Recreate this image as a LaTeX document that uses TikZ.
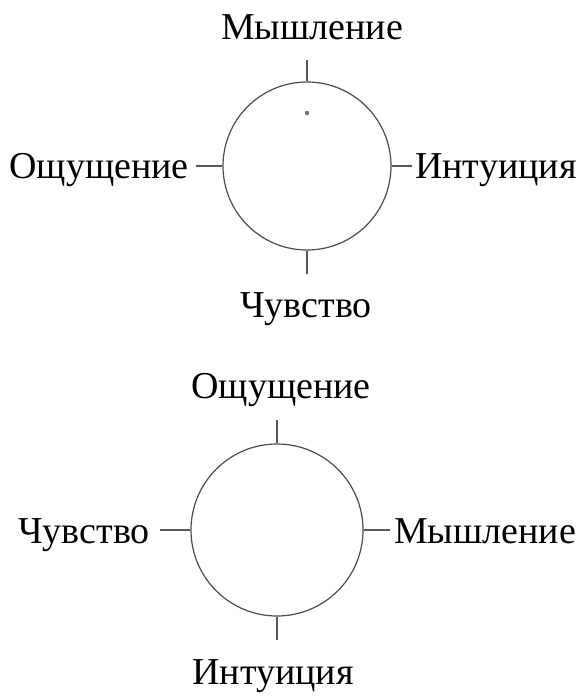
\documentclass[tikz,border=0pt]{standalone}
\usepackage{fontspec}
\setmainfont{Liberation Serif}
\begin{document}
\begin{tikzpicture}[x=1pt,y=-1pt,
  ring/.style={circle,draw=black!70,line width=1.2pt,minimum size=#1,inner sep=0pt},
  tick/.style={draw=black!65,line width=1.2pt},
  lbl/.style={inner sep=0pt,font=\fontsize{38pt}{40pt}\selectfont}]
\useasboundingbox (0,0) rectangle (585,696);
% top circle
\node[ring=168pt] (c1) at (307,166) {};
\fill[black!55] (307,113) circle (2.2pt);
\coordinate (t1n) at (307,60);
\coordinate (t1s) at (307,274);
\coordinate (t1w) at (196,166);
\coordinate (t1e) at (412,166);
\draw[tick] (c1.north) -- (t1n);
\draw[tick] (c1.south) -- (t1s);
\draw[tick] (c1.west) -- (t1w);
\draw[tick] (c1.east) -- (t1e);
\node[lbl,anchor=base] (m1) at (312,39) {Мышление};
\node[lbl,anchor=base] (f1) at (306,317) {Чувство};
\node[lbl,anchor=base east] (s1) at (189,178) {Ощущение};
\node[lbl,anchor=base west] (i1) at (415,178) {Интуиция};
% bottom circle
\node[ring=172pt] (c2) at (277,530) {};
\coordinate (t2n) at (277,420);
\coordinate (t2s) at (277,640);
\coordinate (t2w) at (160,530);
\coordinate (t2e) at (390,530);
\draw[tick] (c2.north) -- (t2n);
\draw[tick] (c2.south) -- (t2s);
\draw[tick] (c2.west) -- (t2w);
\draw[tick] (c2.east) -- (t2e);
\node[lbl,anchor=base] (s2) at (281,398) {Ощущение};
\node[lbl,anchor=base] (i2) at (273,684) {Интуиция};
\node[lbl,anchor=base east] (f2) at (150,543) {Чувство};
\node[lbl,anchor=base west] (m2) at (394,543) {Мышление};
\end{tikzpicture}
\end{document}
